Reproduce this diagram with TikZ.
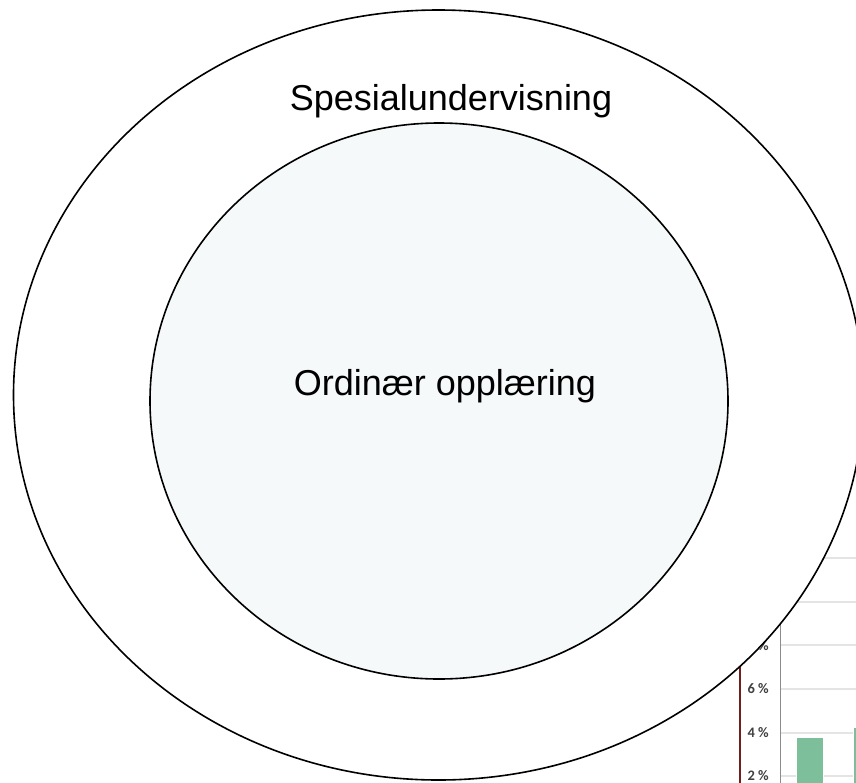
\documentclass[tikz,border=0pt]{standalone}
\usepackage{fontspec}
\setmainfont{Liberation Sans}
\newfontfamily\chartfont{Carlito}
\usetikzlibrary{shapes.geometric}
\definecolor{innerfill}{RGB}{245,249,250}
\definecolor{gridgray}{RGB}{228,228,228}
\definecolor{axisgray}{RGB}{140,140,140}
\definecolor{axisred}{RGB}{115,30,30}
\definecolor{bargreen}{RGB}{125,191,155}
\definecolor{labelgray}{RGB}{64,64,64}
\tikzset{
  ring/.style={ellipse, draw=black, line width=1.6pt, inner sep=0pt},
  bigtext/.style={font=\fontsize{36}{40}\selectfont, text=black, inner sep=0pt},
  gridline/.style={draw=gridgray, line width=1.3pt},
  ticklabel/.style={font=\chartfont\bfseries\fontsize{14.5}{16}\selectfont, text=labelgray, inner sep=0pt, anchor=base east},
  barbox/.style={fill=bargreen, draw=white, line width=0.8pt}
}
\begin{document}
\begin{tikzpicture}[x=1pt,y=-1pt]
\useasboundingbox (0,0) rectangle (856,782);
\clip (0,0) rectangle (856,782);
% fragment of a bar chart behind the rings
\foreach \gy in {558,602,645,689,733,776}{
  \draw[gridline] (781,\gy) -- (860,\gy);
}
\coordinate (axtop) at (780.7,600);
\coordinate (axbot) at (780.7,790);
\draw[draw=axisgray, line width=1.2pt] (axtop) -- (axbot);
\coordinate (redtop) at (740,640);
\coordinate (redbot) at (740,790);
\draw[draw=axisred, line width=2pt] (redtop) -- (redbot);
\node[ticklabel] (l8) at (769,650) {8 \%};
\node[ticklabel] (l6) at (769,693) {6 \%};
\node[ticklabel] (l4) at (769,737) {4 \%};
\node[ticklabel] (l2) at (769,780) {2 \%};
\path[barbox] (796,737) rectangle (823,790);
\path[barbox] (853,727) rectangle (870,790);
% rings
\node[ring, fill=white, minimum width=850pt, minimum height=770pt] (outer) at (438.5,395) {};
\node[ring, fill=innerfill, minimum width=578pt, minimum height=556pt] (inner) at (439,401) {};
\node[bigtext, anchor=base] (spes) at (451,110) {Spesialundervisning};
\node[bigtext, anchor=base] (ord) at (445,395) {Ordinær opplæring};
\end{tikzpicture}
\end{document}
